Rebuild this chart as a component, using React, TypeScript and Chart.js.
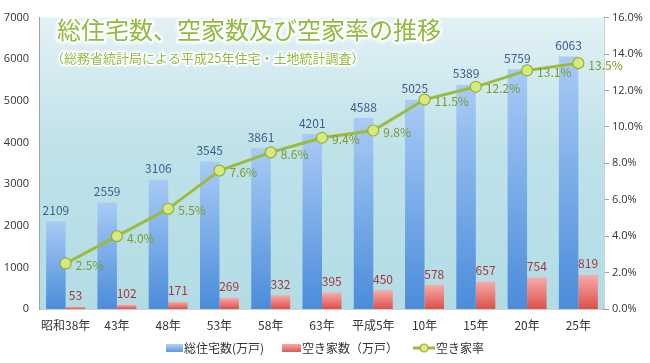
import React, { useEffect, useRef } from "react";
import { Chart, registerables } from "chart.js";

Chart.register(...registerables);

const categories = ["昭和38年", "43年", "48年", "53年", "58年", "63年", "平成5年", "10年", "15年", "20年", "25年"];
const totalHouses = [2109, 2559, 3106, 3545, 3861, 4201, 4588, 5025, 5389, 5759, 6063];
const vacantHouses = [53, 102, 171, 269, 332, 395, 450, 578, 657, 754, 819];
const vacancyRate = [2.5, 4.0, 5.5, 7.6, 8.6, 9.4, 9.8, 11.5, 12.2, 13.1, 13.5];
const seriesNames = ["総住宅数(万戸)", "空き家数（万戸）", "空き家率"];
const titleText = "総住宅数、空家数及び空家率の推移";
const subtitleText = "（総務省統計局による平成25年住宅・土地統計調査）";

const JP = '"Noto Sans CJK JP", "Noto Sans", sans-serif';

// legend icon canvases: 22px wide, content drawn at the right end
function makeBox(w: number, h: number, c1: string, c2: string) {
  const cv = document.createElement("canvas");
  cv.width = 22;
  cv.height = h;
  const c = cv.getContext("2d")!;
  const g = c.createLinearGradient(0, 0, 0, h);
  g.addColorStop(0, c1);
  g.addColorStop(1, c2);
  c.fillStyle = g;
  c.fillRect(22 - w, 0, w, h);
  return cv;
}

function makeLineIcon() {
  const cv = document.createElement("canvas");
  cv.width = 22;
  cv.height = 10;
  const c = cv.getContext("2d")!;
  c.strokeStyle = "#9dbb3a";
  c.lineWidth = 3;
  c.beginPath();
  c.moveTo(0, 5);
  c.lineTo(22, 5);
  c.stroke();
  c.beginPath();
  c.arc(11, 5, 4, 0, Math.PI * 2);
  c.fillStyle = "#d8ea80";
  c.fill();
  c.lineWidth = 1.2;
  c.strokeStyle = "#8fb032";
  c.stroke();
  return cv;
}

function barGradient(top: string, bottom: string, fallback: string) {
  return (ctx: any) => {
    const chart = ctx.chart;
    const { chartArea, scales } = chart;
    if (!chartArea || ctx.type !== "data" || !scales.y) return fallback;
    const v = ctx.raw as number;
    const y0 = scales.y.getPixelForValue(0);
    const y1 = scales.y.getPixelForValue(v);
    if (!isFinite(y0) || !isFinite(y1) || y0 === y1) return fallback;
    const g = chart.ctx.createLinearGradient(0, y1, 0, y0);
    g.addColorStop(0, top);
    g.addColorStop(1, bottom);
    return g;
  };
}

const legendShift = {
  id: "legendShift",
  afterLayout(chart: any) {
    const lg = chart.legend;
    if (lg) {
      lg.top -= 13;
    }
  },
};

const bgPlugin = {
  id: "plotBg",
  beforeDatasetsDraw(chart: any) {
    const { ctx, chartArea: a } = chart;
    ctx.save();
    const g = ctx.createLinearGradient(0, a.top, 0, a.bottom);
    g.addColorStop(0, "#e2f1f6");
    g.addColorStop(0.45, "#bfe2e9");
    g.addColorStop(1, "#b2dce4");
    ctx.fillStyle = g;
    ctx.fillRect(a.left, a.top, a.right - a.left, a.bottom - a.top);
    // title
    ctx.textBaseline = "middle";
    ctx.textAlign = "left";
    ctx.lineJoin = "round";
    ctx.font = `24px ${JP}`;
    ctx.shadowColor = "rgba(255,255,255,0.9)";
    ctx.shadowBlur = 4;
    ctx.strokeStyle = "#ffffff";
    ctx.lineWidth = 4;
    ctx.strokeText(titleText, a.left + 17, 30);
    ctx.shadowBlur = 0;
    ctx.fillStyle = "#90bb40";
    ctx.fillText(titleText, a.left + 17, 30);
    ctx.font = `13px ${JP}`;
    ctx.shadowBlur = 3;
    ctx.lineWidth = 3;
    ctx.strokeText(subtitleText, a.left + 11, 58);
    ctx.shadowBlur = 0;
    ctx.fillStyle = "#90bb40";
    ctx.fillText(subtitleText, a.left + 11, 58);
    ctx.restore();
  },
};

const labelPlugin = {
  id: "valueLabels",
  afterDatasetsDraw(chart: any) {
    const { ctx } = chart;
    ctx.save();
    ctx.font = `12px ${JP}`;
    ctx.textBaseline = "middle";
    const m0 = chart.getDatasetMeta(0);
    const m1 = chart.getDatasetMeta(1);
    const m2 = chart.getDatasetMeta(2);
    ctx.textAlign = "center";
    ctx.fillStyle = "#3c5e8e";
    m0.data.forEach((el: any, i: number) => {
      ctx.fillText(String(totalHouses[i]), el.x, el.y - 11);
    });
    ctx.fillStyle = "#a8353a";
    m1.data.forEach((el: any, i: number) => {
      ctx.fillText(String(vacantHouses[i]), el.x, el.y - 11);
    });
    ctx.textAlign = "left";
    ctx.fillStyle = "#7a9a2e";
    m2.data.forEach((el: any, i: number) => {
      ctx.fillText(vacancyRate[i].toFixed(1) + "%", el.x + 10, el.y + 2);
    });
    ctx.restore();
  },
};

export default function App() {
  const ref = useRef<HTMLCanvasElement>(null);
  useEffect(() => {
    document.body.style.margin = "0";
    const icons = [
      makeBox(17, 8, "#b2d2f7", "#5a98df"),
      makeBox(19, 8, "#f7a9a9", "#de5a55"),
      makeLineIcon(),
    ];
    const chart = new Chart(ref.current!, {
      type: "bar",
      data: {
        labels: categories,
        datasets: [
          {
            type: "bar",
            label: seriesNames[0],
            data: totalHouses,
            yAxisID: "y",
            order: 1,
            backgroundColor: barGradient("#a8cbf5", "#4b8cda", "#6fa6e6"),
            categoryPercentage: 0.76,
            barPercentage: 1.0,
          },
          {
            type: "bar",
            label: seriesNames[1],
            data: vacantHouses,
            yAxisID: "y",
            order: 1,
            backgroundColor: barGradient("#f8abaa", "#dc5049", "#ea7a78"),
            categoryPercentage: 0.76,
            barPercentage: 1.0,
          },
          {
            type: "line",
            label: seriesNames[2],
            data: vacancyRate,
            yAxisID: "y1",
            order: 0,
            borderColor: "#9dbb3a",
            borderWidth: 3,
            pointRadius: 5.5,
            pointBackgroundColor: "#d6e97c",
            pointBorderColor: "#92b236",
            pointBorderWidth: 1.2,
            tension: 0,
          },
        ],
      },
      options: {
        responsive: false,
        animation: false,
        layout: { padding: { top: 9, left: 0, right: 0, bottom: 0 } },
        plugins: {
          tooltip: { enabled: false },
          title: { display: false },
          legend: {
            position: "bottom",
            maxHeight: 28,
            labels: {
              usePointStyle: true,
              pointStyleWidth: 12,
              boxHeight: 12,
              padding: 20,
              color: "#333333",
              font: { family: JP, size: 12 },
              generateLabels: () =>
                seriesNames.map((t, i) => ({
                  text: t,
                  pointStyle: icons[i] as any,
                  datasetIndex: i,
                  hidden: false,
                  fillStyle: "transparent",
                  strokeStyle: "transparent",
                  lineWidth: 0,
                  fontColor: "#333333",
                })),
            },
          },
        },
        scales: {
          x: {
            offset: true,
            grid: { display: false, drawTicks: false },
            border: { display: true, color: "#a3a3a3", width: 1.5 },
            ticks: { color: "#333333", font: { family: JP, size: 12 }, padding: 9, maxRotation: 0, autoSkip: false },
            afterFit: (s: any) => {
              s.height = 26;
            },
          },
          y: {
            position: "left",
            min: 0,
            max: 7000,
            grid: { display: false, drawTicks: false },
            border: { display: true, color: "#a3a3a3", width: 1.5 },
            ticks: {
              stepSize: 1000,
              color: "#333333",
              font: { family: '"Open Sans", sans-serif', size: 11 },
              padding: 11,
              callback: (v: any) => String(v),
            },
            afterFit: (s: any) => {
              s.width = 40;
            },
          },
          y1: {
            position: "right",
            min: 0,
            max: 16,
            grid: { display: true, drawOnChartArea: false, drawTicks: true, tickLength: 5, color: "#a3a3a3" },
            border: { display: true, color: "#a3a3a3", width: 1.5 },
            ticks: {
              stepSize: 2,
              color: "#333333",
              font: { family: '"Open Sans", sans-serif', size: 11 },
              padding: 3,
              callback: (v: any) => Number(v).toFixed(1) + "%",
            },
            afterFit: (s: any) => {
              s.width = 46;
            },
          },
        },
      },
      plugins: [bgPlugin, labelPlugin, legendShift],
    });
    return () => chart.destroy();
  }, []);
  return (
    <div style={{ width: 650, height: 363, background: "#ffffff" }}>
      <canvas ref={ref} width={650} height={363} style={{ display: "block" }} />
    </div>
  );
}
